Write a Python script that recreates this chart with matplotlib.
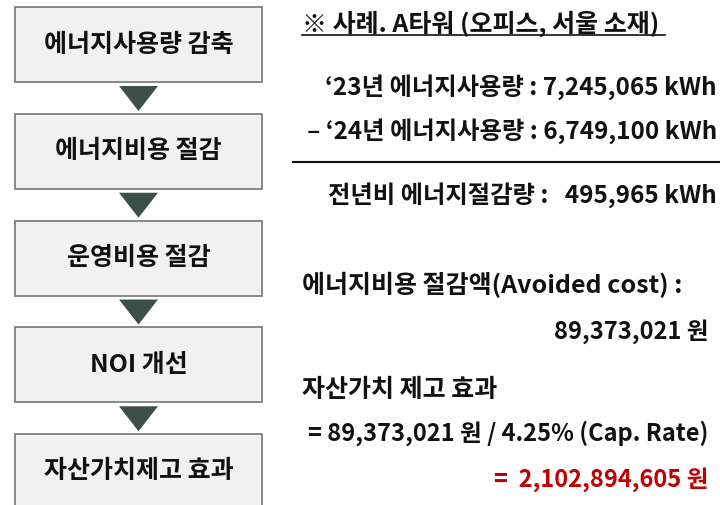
import matplotlib.pyplot as plt
from matplotlib.patches import Rectangle, Polygon

plt.rcParams['font.family'] = ['Noto Sans CJK KR', 'DejaVu Sans']

# flow steps (left column)
steps = ["에너지사용량 감축", "에너지비용 절감", "운영비용 절감", "NOI 개선", "자산가치제고 효과"]

# case text (right column)
title = "※ 사례. A타워 (오피스, 서울 소재)"
usage_lines = ["‘23년 에너지사용량 : 7,245,065 kWh",
               "– ‘24년 에너지사용량 : 6,749,100 kWh"]
saving_line = "전년비 에너지절감량 :   495,965 kWh"
cost_label = "에너지비용 절감액(Avoided cost) :"
cost_value = "89,373,021 원"
value_label = "자산가치 제고 효과"
value_formula = "= 89,373,021 원 / 4.25% (Cap. Rate)"
value_result = "=  2,102,894,605 원"

fig = plt.figure(figsize=(7.2, 5.05), dpi=100)
ax = fig.add_axes([0, 0, 1, 1])
ax.set_xlim(0, 720)
ax.set_ylim(505, 0)
ax.axis("off")

# boxes + arrows
box_x, box_w, box_h = 15, 247, 75
step_gap = 106.75
fs = 18
for i, label in enumerate(steps):
    top = 7 + i * step_gap
    ax.add_patch(Rectangle((box_x, top), box_w, box_h, facecolor="#f1f1f1",
                           edgecolor="#808080", linewidth=1.3))
    ax.text(box_x + box_w / 2, top + box_h / 2, label, ha="center", va="center",
            fontsize=fs, fontweight="bold", color="#111111")
    if i < len(steps) - 1:
        cx = box_x + box_w / 2
        t0 = top + box_h + 4
        ax.add_patch(Polygon([(cx - 19.5, t0), (cx + 19.5, t0), (cx, t0 + 25)],
                             closed=True, facecolor="#3c4f49", edgecolor="none"))

# right column
tkw = dict(fontweight="bold", color="#111111", va="center")
ax.text(302, 24, title, ha="left", fontsize=fs, **tkw)
ax.plot([302, 665], [35, 35], color="#111111", linewidth=1.2)

ax.text(717, 87, usage_lines[0], ha="right", fontsize=17.5, **tkw)
ax.text(717, 131, usage_lines[1], ha="right", fontsize=17.5, **tkw)
ax.plot([293, 720], [162, 162], color="#111111", linewidth=1.5)
ax.text(717, 195, saving_line, ha="right", fontsize=17.5, **tkw)

ax.text(302, 285, cost_label, ha="left", fontsize=fs, **tkw)
ax.text(708, 332, cost_value, ha="right", fontsize=17, **tkw)

ax.text(302, 390, value_label, ha="left", fontsize=fs, **tkw)
ax.text(708, 433, value_formula, ha="right", fontsize=17, **tkw)
ax.text(708, 480, value_result, ha="right", fontsize=17, fontweight="bold",
        color="#c00000", va="center")

fig.savefig("out.png", dpi=100)
